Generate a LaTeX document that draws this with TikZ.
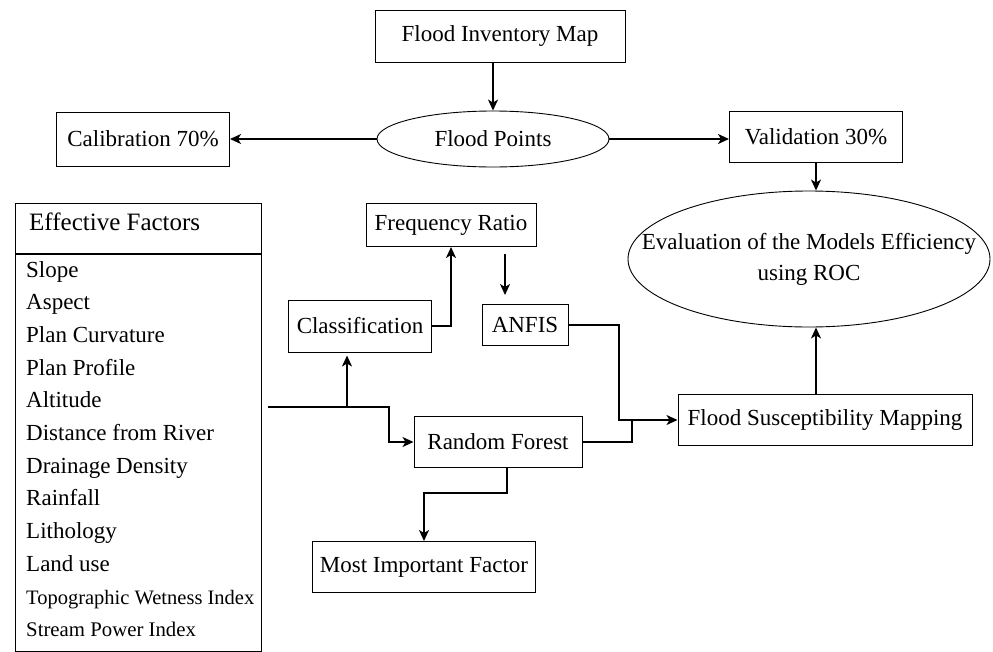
\documentclass[tikz,border=0pt]{standalone}
\usepackage{fontspec}
\setmainfont{Liberation Serif}
\usetikzlibrary{calc}
\usetikzlibrary{arrows.meta}
\usetikzlibrary{shapes.geometric}

\tikzset{
  box/.style={draw, line width=1pt, inner sep=0pt},
  oval/.style={draw, ellipse, line width=0.9pt, inner sep=0pt},
  wire/.style={line width=1.6pt},
  arr/.style={line width=1.6pt, -{Stealth[length=11pt,width=10pt,inset=3pt]}},
}

\begin{document}
\begin{tikzpicture}[x=1pt, y=-1pt, font=\fontsize{23}{31}\selectfont]
\useasboundingbox (0,0) rectangle (993,651);

\node[box, minimum width=250pt, minimum height=52pt] (fim) at (500,36) {Flood Inventory Map};
\node[oval, minimum width=232pt, minimum height=56pt] (fpts) at (493,139) {Flood Points};
\node[box, minimum width=173pt, minimum height=54pt] (cal) at (143,139) {Calibration 70\%};
\node[box, minimum width=173pt, minimum height=51pt] (val) at (816,137) {Validation 30\%};
\node[oval, inner xsep=-45pt, minimum width=362pt, minimum height=136pt, align=center] (eval) at (809,259) {Evaluation of the Models Efficiency\\using ROC};
\node[box, minimum width=294pt, minimum height=51pt] (fsm) at (825,420) {Flood Susceptibility Mapping};
\node[box, minimum width=170pt, minimum height=43pt] (fr) at (451,225) {Frequency Ratio};
\node[box, minimum width=143pt, minimum height=52pt] (cls) at (360,326) {Classification};
\node[box, minimum width=86pt, minimum height=41pt] (anfis) at (525,325) {ANFIS};
\node[box, minimum width=168pt, minimum height=51pt] (rf) at (498,442) {Random Forest};
\node[box, minimum width=223pt, minimum height=51pt] (mif) at (424,567) {Most Important Factor};

\node[box, anchor=north west, minimum width=246pt, minimum height=50pt] (hdr) at (15,203) {};
\node[anchor=base west, inner sep=0pt, font=\fontsize{25}{30}\selectfont] (hdrtxt) at (29,230) {Effective Factors};
\node[box, anchor=north west, minimum width=246pt, minimum height=397pt] (lst) at (hdr.south west) {};

\foreach \name/\fs [count=\i] in {Slope/23, Aspect/23, Plan Curvature/23, Plan Profile/23, Altitude/23, Distance from River/23, Drainage Density/23, Rainfall/23, Lithology/23, Land use/23, Topographic Wetness Index/20.5, Stream Power Index/20.8}
  \node[anchor=base west, inner sep=0pt, font=\fontsize{\fs}{\fs}\selectfont] (f\i) at (26,{277+32.7*(\i-1)}) {\name};

\coordinate (split) at (268,407);
\coordinate (bend) at (389,407);
\coordinate (join) at (619,420);
\coordinate (clsin) at ([xshift=-13pt]cls.south);
\coordinate (anfisin) at ([xshift=-20pt]anfis.north);
\coordinate (rfout) at ([xshift=9pt]rf.south);

\draw[arr] (fim.south -| fpts.north) -- (fpts.north);
\draw[arr] (fpts.west) -- (cal.east);
\draw[arr] (fpts.east) -- (fpts.east -| val.west);
\draw[arr] (val.south) -- (val.south |- eval.north);
\draw[arr] (val.south |- fsm.north) -- (val.south |- eval.south);

\draw[arr] (split) -- (bend) |- (rf.west);
\draw[arr, shorten >=3pt] (clsin |- split) -- (clsin);
\draw[arr] (cls.east) -| (fr.south);
\draw[arr, shorten <=7pt, shorten >=9pt] (anfisin |- fr.south) -- (anfisin);
\draw[arr] (anfis.east) -| (join) -- (fsm.west);
\draw[wire] (rf.east) -| ([xshift=13pt]join);
\draw[arr] (rfout) -- ++(0,25) -| (mif.north);

\end{tikzpicture}
\end{document}
